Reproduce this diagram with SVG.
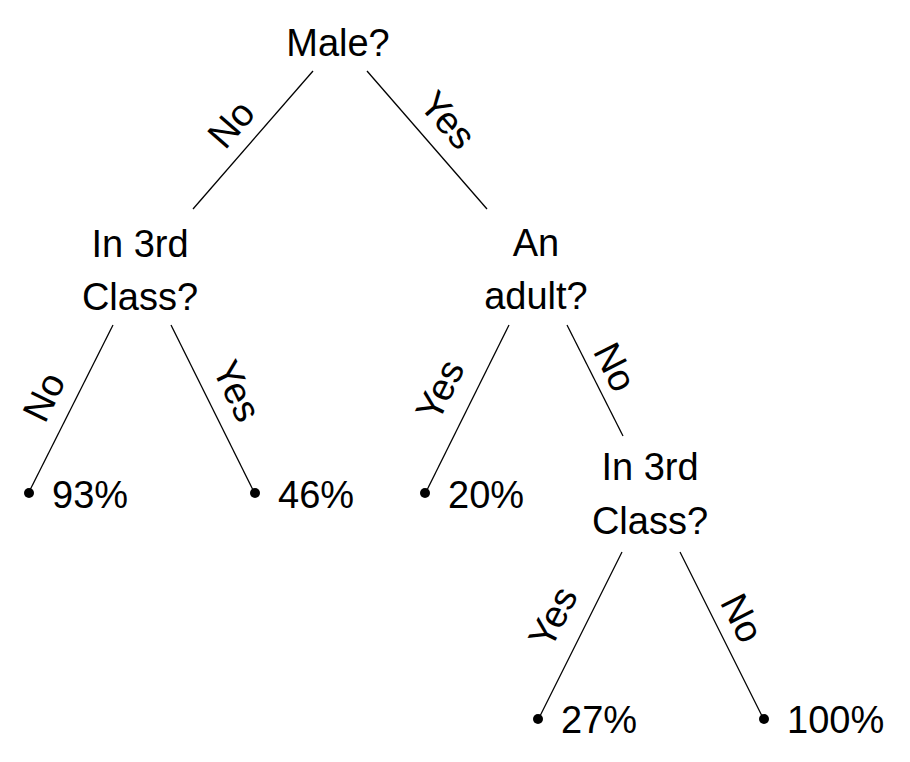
<svg xmlns="http://www.w3.org/2000/svg" width="910" height="762" viewBox="0 0 910 762">
<style>
text{font-family:"Liberation Sans",Arial,sans-serif;font-size:38px;fill:#000}
.m{text-anchor:middle}
.e line{stroke:#000;stroke-width:1.3}
.dot{fill:#000}
</style>
<rect width="910" height="762" fill="#fff"/>
<g id="connectors" class="e">
<line x1="313" y1="71" x2="193" y2="209"/>
<line x1="367" y1="71" x2="487" y2="209"/>
<line x1="113" y1="325" x2="30" y2="490"/>
<line x1="171" y1="325" x2="253" y2="490"/>
<line x1="509" y1="325" x2="427" y2="490"/>
<line x1="567" y1="325" x2="623" y2="436"/>
<line x1="622" y1="552" x2="540" y2="716"/>
<line x1="680" y1="552" x2="762" y2="716"/>
<text class="m" transform="translate(231,124) rotate(-49)" y="13">No</text>
<text class="m" transform="translate(448,120) rotate(49)" y="13">Yes</text>
<text class="m" transform="translate(44,397) rotate(-64)" y="13">No</text>
<text class="m" transform="translate(237,391) rotate(64)" y="13">Yes</text>
<text class="m" transform="translate(440,390) rotate(-64)" y="13">Yes</text>
<text class="m" transform="translate(615,367) rotate(63)" y="13">No</text>
<text class="m" transform="translate(553,617) rotate(-63)" y="13">Yes</text>
<text class="m" transform="translate(742,618) rotate(63)" y="13">No</text>
</g>
<g id="n-male"><text class="m" x="338" y="56">Male?</text></g>
<g id="n-class1"><text class="m" x="140" y="257">In 3rd</text><text class="m" x="140" y="310">Class?</text></g>
<g id="n-adult"><text class="m" x="536" y="256">An</text><text class="m" x="536" y="309">adult?</text></g>
<g id="n-class2"><text class="m" x="650" y="480">In 3rd</text><text class="m" x="650" y="534">Class?</text></g>
<g id="leaf-93"><circle class="dot" cx="29" cy="493" r="5"/><text x="52" y="508">93%</text></g>
<g id="leaf-46"><circle class="dot" cx="255" cy="493" r="5"/><text x="278" y="508">46%</text></g>
<g id="leaf-20"><circle class="dot" cx="425" cy="493" r="5"/><text x="448" y="508">20%</text></g>
<g id="leaf-27"><circle class="dot" cx="538" cy="719" r="5"/><text x="561" y="733">27%</text></g>
<g id="leaf-100"><circle class="dot" cx="764" cy="719" r="5"/><text x="787" y="733">100%</text></g>
</svg>
